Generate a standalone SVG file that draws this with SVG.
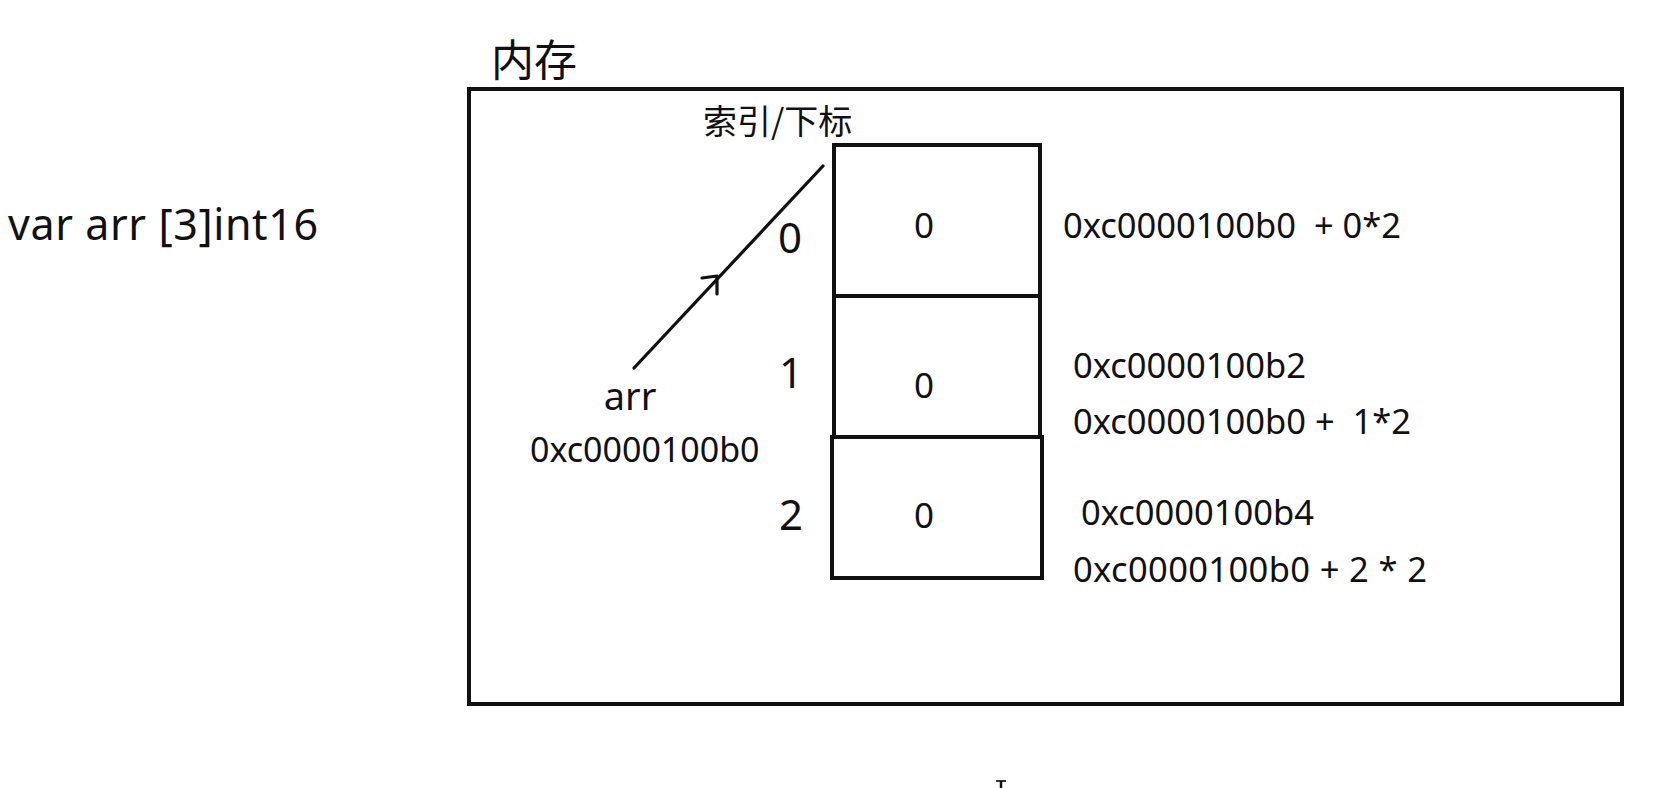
<svg xmlns="http://www.w3.org/2000/svg" width="1680" height="788" viewBox="0 0 1680 788">
  <style>
    .t { font-family: "Noto Sans", "Open Sans", "Noto Sans CJK SC", sans-serif; fill: #111; }
    .cjk { font-family: "Noto Sans CJK SC", "Noto Sans", sans-serif; fill: #111; }
    .box { fill: none; stroke: #111; stroke-width: 4; }
    .ln { fill: none; stroke: #111; stroke-width: 3.2; stroke-linecap: round; stroke-linejoin: round; }
    .pre { white-space: pre; }
  </style>
  <rect width="1680" height="788" fill="#ffffff"/>

  <g id="declaration">
    <text class="t" x="8" y="240" font-size="43" textLength="310" lengthAdjust="spacing">var arr [3]int16</text>
  </g>

  <g id="memory">
    <text class="cjk" x="491" y="76" font-size="43">内存</text>
    <rect class="box" x="469" y="89" width="1153" height="615"/>
    <text class="cjk" x="703" y="134" font-size="34">索引/下标</text>
  </g>

  <g id="cell0">
    <rect class="box" x="834" y="145" width="206" height="151"/>
    <text class="t" x="924" y="238" font-size="35" text-anchor="middle">0</text>
    <text class="t" x="790" y="253" font-size="42" text-anchor="middle">0</text>
    <text class="t pre" x="1063" y="238" font-size="34.5">0xc0000100b0  + 0*2</text>
  </g>

  <g id="cell1">
    <rect class="box" x="834" y="296" width="206" height="141"/>
    <text class="t" x="924" y="398" font-size="35" text-anchor="middle">0</text>
    <text class="t" x="791" y="388" font-size="42" text-anchor="middle">1</text>
    <text class="t" x="1073" y="378" font-size="34.5">0xc0000100b2</text>
    <text class="t pre" x="1073" y="434" font-size="34.5">0xc0000100b0 +  1*2</text>
  </g>

  <g id="cell2">
    <rect class="box" x="832" y="437" width="210" height="141"/>
    <text class="t" x="924" y="528" font-size="35" text-anchor="middle">0</text>
    <text class="t" x="791" y="530" font-size="42" text-anchor="middle">2</text>
    <text class="t" x="1081" y="525" font-size="34.5">0xc0000100b4</text>
    <text class="t pre" x="1073" y="582" font-size="34.5" textLength="354" lengthAdjust="spacing">0xc0000100b0 + 2 * 2</text>
  </g>

  <g id="arr">
    <text class="t" x="630" y="410" font-size="38" text-anchor="middle">arr</text>
    <text class="t" x="530" y="462" font-size="34">0xc0000100b0</text>
  </g>

  <g id="connectors">
    <line class="ln" x1="634" y1="368" x2="823" y2="166"/>
    <path class="ln" d="M702 278 L717 276 L717 294"/>
  </g>

  <g id="cursor">
    <line x1="996" y1="781" x2="1006" y2="781" stroke="#333" stroke-width="2"/>
    <line x1="1001" y1="781" x2="1001" y2="788" stroke="#111" stroke-width="2.5"/>
  </g>
</svg>
